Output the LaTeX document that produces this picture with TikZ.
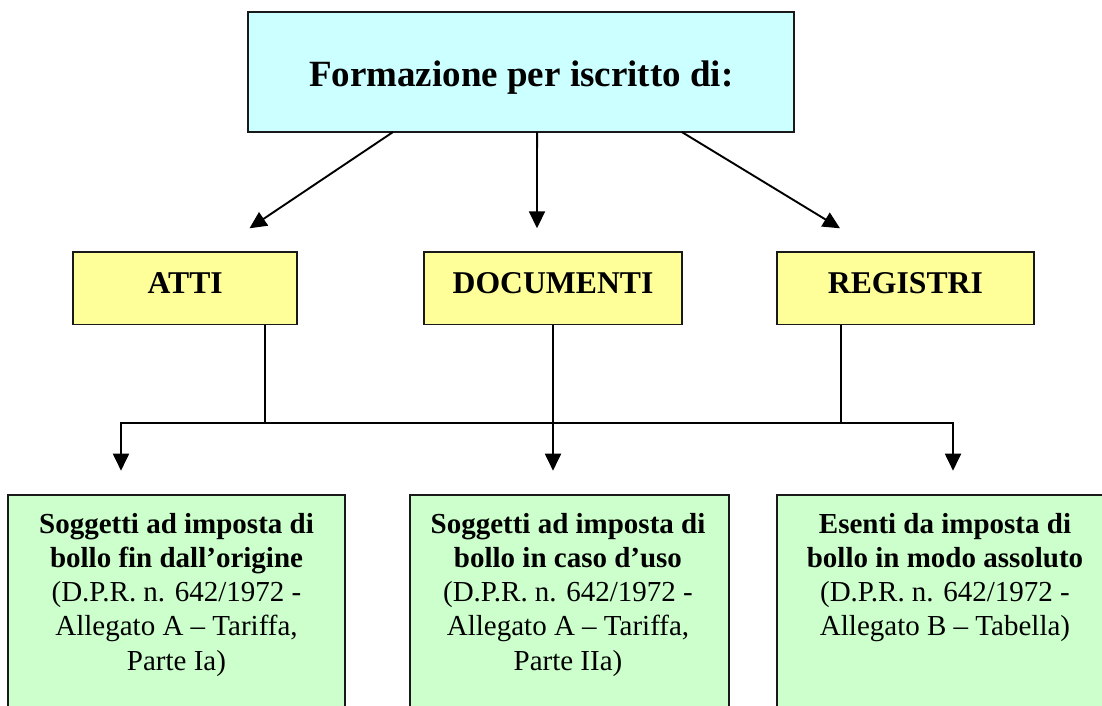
\documentclass[tikz,border=0pt]{standalone}
\usepackage{fontspec}
\setmainfont{Liberation Serif}
\usetikzlibrary{arrows.meta,calc}
\definecolor{topfill}{HTML}{CCFFFF}
\definecolor{yfill}{HTML}{FFFF99}
\definecolor{gfill}{HTML}{CCFFCC}
\begin{document}
\begin{tikzpicture}[x=1pt,y=-1pt,
  box/.style={draw=black!90,line width=1.9pt,inner sep=0pt,outer sep=0pt},
  topbox/.style={box,fill=topfill,minimum width=545.7pt,minimum height=120pt,font=\fontsize{37}{44}\selectfont\bfseries,text height=29.4pt,text depth=0pt},
  ybox/.style={box,fill=yfill,minimum height=72.2pt,font=\fontsize{31.7}{38}\selectfont\bfseries,text height=22pt,text depth=12pt},
  gbox/.style={box,fill=gfill,minimum height=260pt,anchor=north},
  gtext/.style={align=center,anchor=north,inner sep=0pt,outer sep=0pt,font=\fontsize{29}{34.2}\selectfont},
  link/.style={line width=1.9pt,black},
  arr/.style={link,-{Triangle[length=17pt,width=16pt]}},
  darr/.style={link,{Triangle[length=17pt,width=16pt]}-{Triangle[length=17pt,width=16pt]}},
]
\useasboundingbox (0,0) rectangle (1102,706);
\clip (0,0) rectangle (1102,706);
\fill[white] (0,0) rectangle (1102,706);

\node[topbox] (top) at (521.2,72) {Formazione per iscritto di:};

\node[ybox,minimum width=224.3pt] (atti) at (185.2,288.4) {ATTI};
\node[ybox,minimum width=257.4pt] (doc) at (553,288.4) {DOCUMENTI};
\node[ybox,minimum width=257.3pt] (reg) at (905.4,288.4) {REGISTRI};

\node[gbox,minimum width=337pt] (g1) at (176.5,495) {};
\node[gbox,minimum width=319pt] (g2) at (569.5,495) {};
\node[gbox,minimum width=336pt] (g3) at (945,495) {};

\node[gtext] (g1t) at ($(g1.north)+(0,18.1)$) {\textbf{Soggetti ad imposta di}\\\textbf{bollo fin dall’origine}\\(D.P.R. n. 642/1972 -\\Allegato A – Tariffa,\\Parte Ia)};
\node[gtext] (g2t) at ($(g2.north)+(-1.5,18.1)$) {\textbf{Soggetti ad imposta di}\\\textbf{bollo in caso d’uso}\\(D.P.R. n. 642/1972 -\\Allegato A – Tariffa,\\Parte IIa)};
\node[gtext] (g3t) at ($(g3.north)+(0,18.1)$) {\textbf{Esenti da imposta di}\\\textbf{bollo in modo assoluto}\\(D.P.R. n. 642/1972 -\\Allegato B – Tabella)};

% arrows from the title box
\coordinate (tA) at (249.5,228.3);
\coordinate (tB) at (537,228.3);
\coordinate (tC) at (840,228.3);
\draw[arr] ($(top.south west)+(144.7,0)$) -- (tA);
\draw[arr] ($(top.south west)+(288.7,0)$) -- (tB);
\draw[arr] ($(top.south west)+(433.4,0)$) -- (tC);

% bus
\coordinate (jA) at (265,423.3);
\coordinate (jC) at (841,423.3);
\coordinate (bL) at (121,423.3);
\coordinate (bR) at (953,423.3);
\coordinate (dL) at (121,470.7);
\coordinate (dB) at (553,470.7);
\coordinate (dR) at (953,470.7);
\draw[link] (atti.south -| jA) -- (jA);
\draw[link] (reg.south -| jC) -- (jC);
\draw[arr] (doc.south) -- (dB);
\draw[darr,line join=miter] (dL) -- (bL) -- (bR) -- (dR);
\end{tikzpicture}
\end{document}
